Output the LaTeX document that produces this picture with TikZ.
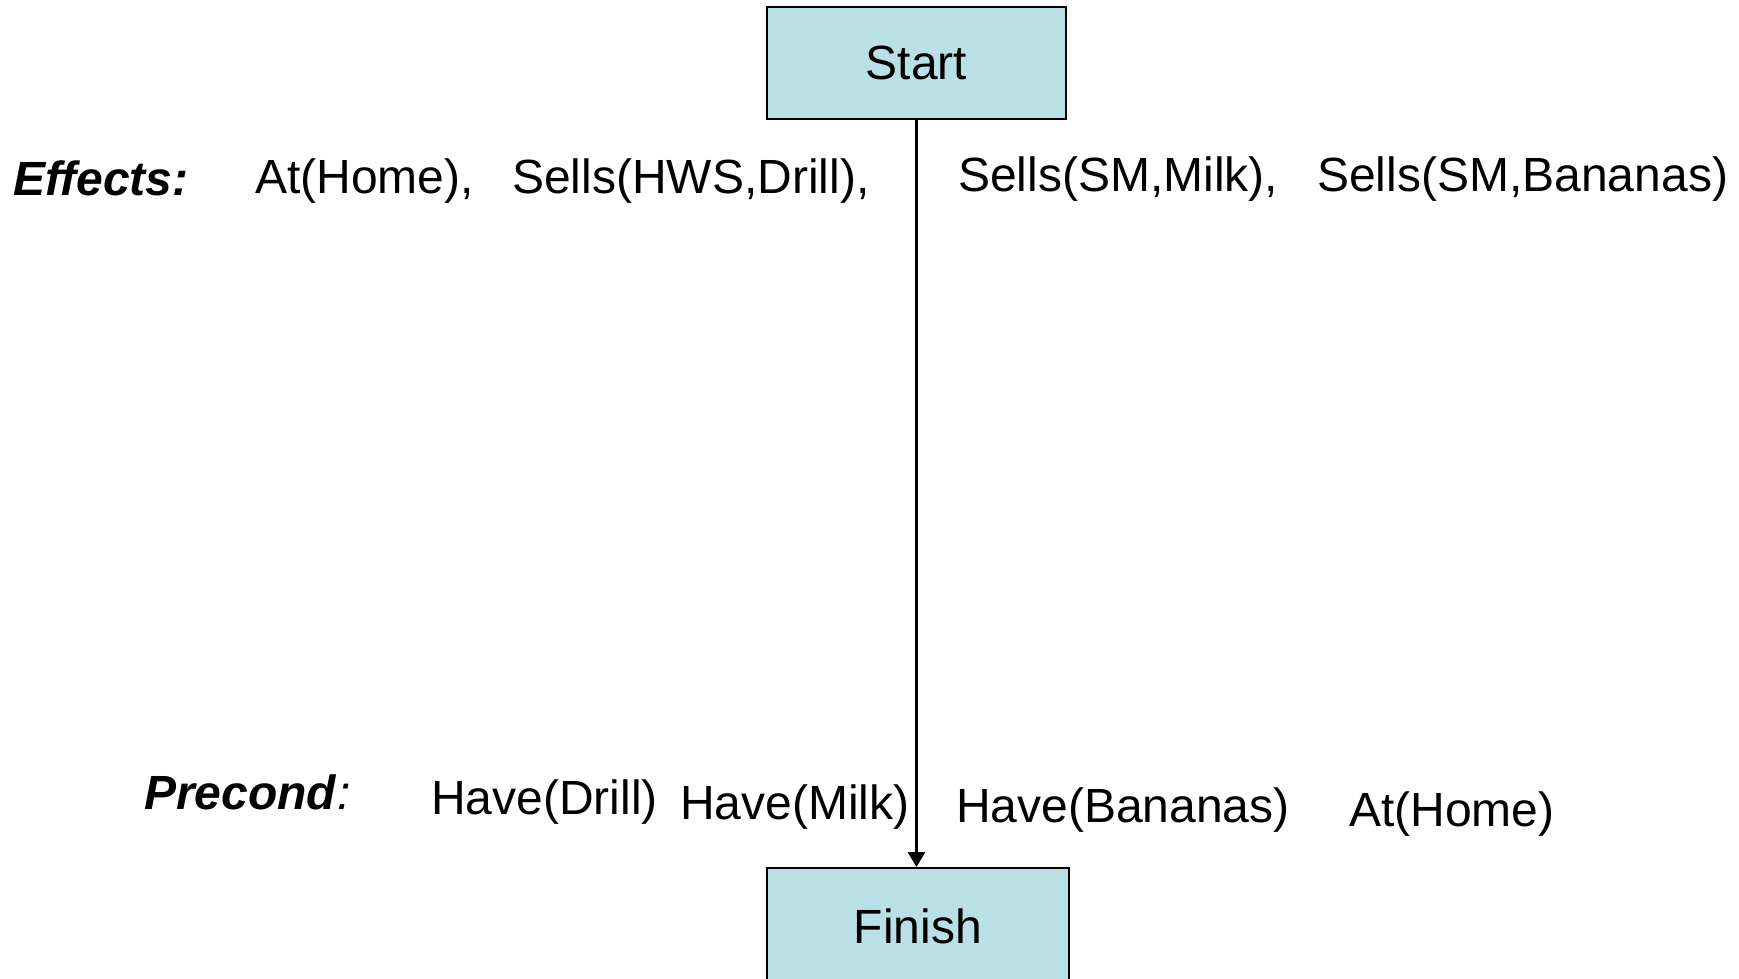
\documentclass[tikz,border=0pt]{standalone}
\usepackage{fontspec}
\setmainfont{Liberation Sans}
\usetikzlibrary{arrows.meta}
\definecolor{boxfill}{RGB}{185,224,228}
\tikzset{
  stepbox/.style={draw=black, line width=2pt, fill=boxfill, inner sep=0pt, text depth=0pt, font=\fontsize{48}{56}\selectfont},
  lbl/.style={anchor=base west, inner sep=0pt, font=\fontsize{48}{56}\selectfont},
  link/.style={line width=3pt, -{Triangle[length=15pt,width=17pt]}}
}
\begin{document}
\begin{tikzpicture}[x=1pt,y=-1pt]
\useasboundingbox (0,0) rectangle (1739,979);
\node[stepbox, minimum width=299pt, minimum height=112pt] (start) at (916.5,63) {Start};
\node[stepbox, minimum width=302pt, minimum height=116pt] (finish) at (918,926) {Finish};
\draw[link] (start.south) -- (start.south |- finish.north);
% effects
\node[lbl] (eff) at (13,195) {\textbf{\textit{Effects:}}};
\node[lbl] (e1) at (255,193) {At(Home),};
\node[lbl] (e2) at (512,193) {Sells(HWS,Drill),};
\node[lbl] (e3) at (958,191) {Sells(SM,Milk),};
\node[lbl] (e4) at (1317,191) {Sells(SM,Bananas)};
% preconditions
\node[lbl] (pre) at (144,809) {\textbf{\textit{Precond}}\textit{:}};
\node[lbl] (p1) at (431,814) {Have(Drill)};
\node[lbl] (p2) at (680,819) {Have(Milk)};
\node[lbl] (p3) at (956,822) {Have(Bananas)};
\node[lbl] (p4) at (1349,826) {At(Home)};
\end{tikzpicture}
\end{document}
